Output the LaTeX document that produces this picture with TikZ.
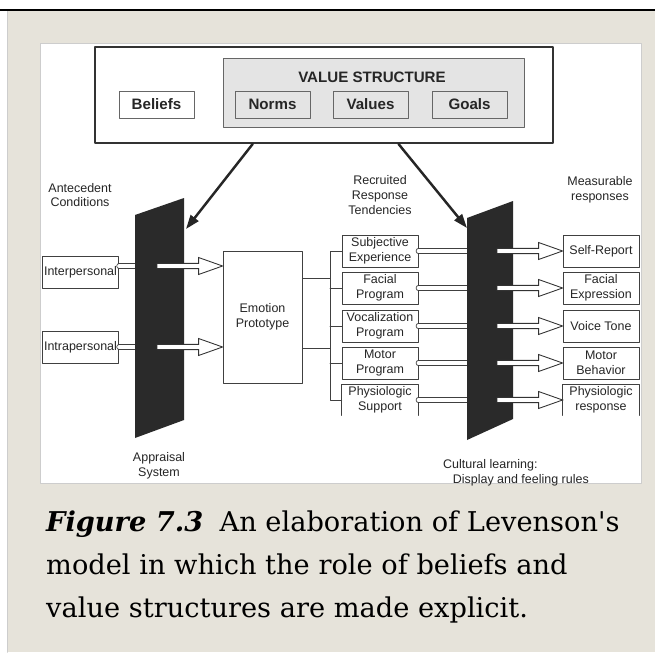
\documentclass[tikz,border=0pt]{standalone}
\usepackage{fontspec}
\setmainfont{DejaVu Serif}
\newfontfamily\diagfont{Liberation Sans}
\usetikzlibrary{arrows.meta,calc}
\definecolor{pagebeige}{HTML}{E6E3DA}
\definecolor{gatedark}{HTML}{2A2A2A}
\definecolor{valuegray}{HTML}{E4E4E4}
\definecolor{edgegray}{HTML}{CDCDCD}

% open block arrow, running right from #1 to the tip #2
\newcommand\blockarrow[2]{%
 \draw[fill=white,draw=black!80,line join=miter,line width=.5pt]
  ($(#1)+(0,2.6)$) -- ($(#2)+(-24,2.6)$) -- ($(#2)+(-24,8.5)$) -- (#2)
  -- ($(#2)+(-24,-8.5)$) -- ($(#2)+(-24,-2.6)$) -- ($(#1)+(0,-2.6)$) -- cycle;}

\begin{document}
\begin{tikzpicture}[x=0.02cm,y=-0.02cm,line cap=round,line join=round,
 every node/.style={font=\diagfont\fontsize{7.1}{8.4}\selectfont,align=center,text=black!85},
 box/.style={draw=black!75,line width=.5pt,fill=white,inner sep=1pt,
  minimum width=1.52cm,minimum height=.64cm},
 vbox/.style={draw=black!60,line width=.5pt,fill=valuegray,inner sep=1pt,
  minimum width=1.5cm,minimum height=.54cm,
  font=\diagfont\bfseries\fontsize{8.6}{10}\selectfont},
 gate/.style={fill=gatedark},
 feed/.style={double=white,double distance=2.2pt,line width=.45pt,draw=black!75},
 wire/.style={line width=.5pt,draw=black!75},
 valuearrow/.style={-{Triangle[length=8pt,width=5.5pt]},line width=1.4pt,draw=black!85}]
 \useasboundingbox (0,0) rectangle (655,652);
 % page and figure panel
 \fill[white] (0,0) rectangle (655,652);
 \fill[pagebeige] (8,10) rectangle (655,652);
 \draw[edgegray,line width=1.1pt] (7.5,10) -- (7.5,652);
 \draw[black,line width=1.6pt,line cap=butt] (0,10) -- (655,10);
 \fill[white,draw=edgegray,line width=.4pt] (40,43) rectangle (641,483);

 % beliefs and value structure
 \node[draw=black!80,line width=1.1pt,fill=white,minimum width=9.16cm,
  minimum height=1.92cm] (vs) at (324,95) {};
 \node[draw=black!60,line width=.5pt,fill=valuegray,minimum width=6.02cm,
  minimum height=1.38cm] (vstruct) at (373.5,92.5) {};
 \node[font=\diagfont\bfseries\fontsize{8.6}{10}\selectfont] (vtitle) at (372,77) {VALUE STRUCTURE};
 \node[vbox,fill=white] (beliefs) at (156.5,104.5) {Beliefs};
 \node[vbox] (norms) at (272.5,104.5) {Norms};
 \node[vbox] (values) at (370.5,104.5) {Values};
 \node[vbox] (goals) at (469.5,104.5) {Goals};

 % column headings
 \node (antec) at (80,195) {Antecedent\\Conditions};
 \node (recr) at (380,195) {Recruited\\Response\\Tendencies};
 \node (meas) at (600,190) {Measurable\\responses};
 \node (apprl) at (159,466) {Appraisal\\System};
 \node[anchor=north west,align=left] (cultl) at (437,453)
  {Cultural learning:\\\hspace*{5.5pt}Display and feeling rules};

 % antecedents and emotion prototype
 \node[box,minimum width=1.5cm] (inter) at (80.5,272) {Interpersonal};
 \node[box,minimum width=1.5cm] (intra) at (80.5,347) {Intrapersonal};
 \node[box,minimum width=1.58cm,minimum height=2.64cm] (emo) at (262.5,317) {Emotion\\Prototype};
 \coordinate (apprin1) at (135,266);
 \coordinate (apprin2) at (135,347);
 \coordinate (approut1) at (157,266);
 \coordinate (approut2) at (157,347);
 \coordinate (emoin1) at (emo.west |- approut1);
 \coordinate (emoin2) at (emo.west |- approut2);
 \draw[feed] (inter.east |- apprin1) -- (apprin1);
 \draw[feed] (intra.east |- apprin2) -- (apprin2);

 % recruited tendencies and measurable responses
 \foreach \y/\rec/\mea [count=\i] in {251/{Subjective\\Experience}/Self-Report,
   288/{Facial\\Program}/{Facial\\Expression},326/{Vocalization\\Program}/Voice Tone,
   363/{Motor\\Program}/{Motor\\Behavior}}{
  \node[box] (rec\i) at (380,\y) {\rec};
  \node[box] (mea\i) at (601,\y) {\mea};
 }
 \node[box,draw=none,minimum height=.6cm] (rec5) at (380,400) {Physiologic\\Support};
 \node[box,draw=none,minimum height=.6cm] (mea5) at (601,400) {Physiologic\\response};
 \draw[wire] (rec5.south west) -- (rec5.north west) -- (rec5.north east) -- (rec5.south east);
 \draw[wire] (mea5.south west) -- (mea5.north west) -- (mea5.north east) -- (mea5.south east);

 \coordinate (fork) at (330,0);
 \coordinate (fork1) at (330,278);
 \coordinate (fork2) at (330,348);
 \draw[wire] (emo.east |- fork1) -- (fork1);
 \draw[wire] (emo.east |- fork2) -- (fork2);
 \draw[wire] (rec1.west) -- (rec1.west -| fork) -- (rec5.west -| fork) -- (rec5.west);
 \foreach \i in {2,3,4} \draw[wire] (rec\i.west) -- (rec\i.west -| fork);

 \coordinate (cultL) at (467,0);
 \coordinate (cultR) at (497,0);
 \foreach \i in {1,...,5} \draw[feed] (rec\i.east) -- (rec\i.east -| cultL);

 % appraisal system and display rules
 \fill[gate] (135,215) -- (184,198) -- (184,420) -- (135,438) -- cycle;
 \fill[gate] (467,218) -- (513,201) -- (513,419) -- (467,440) -- cycle;
 \coordinate (apprtop) at (186,229);
 \coordinate (culttop) at (467,228);

 \blockarrow{approut1}{emoin1}
 \blockarrow{approut2}{emoin2}
 \foreach \i in {1,...,5}{
  \coordinate (co\i) at (rec\i.east -| cultR);
  \blockarrow{co\i}{mea\i.west}
 }

 \draw[valuearrow] ($(vs.south west)!.345!(vs.south east)$) -- (apprtop);
 \draw[valuearrow] ($(vs.south west)!.662!(vs.south east)$) -- (culttop);

 % caption
 \node[anchor=base west,align=left,text=black,font=\rmfamily\fontsize{15.5}{24.4}\selectfont]
  (caption) at (40,617)
  {\textbf{\textit{Figure 7.3}}\hspace{.6em}An elaboration of Levenson\textquotesingle s\\
   model in which the role of beliefs and\\
   value structures are made explicit.};
\end{tikzpicture}
\end{document}
